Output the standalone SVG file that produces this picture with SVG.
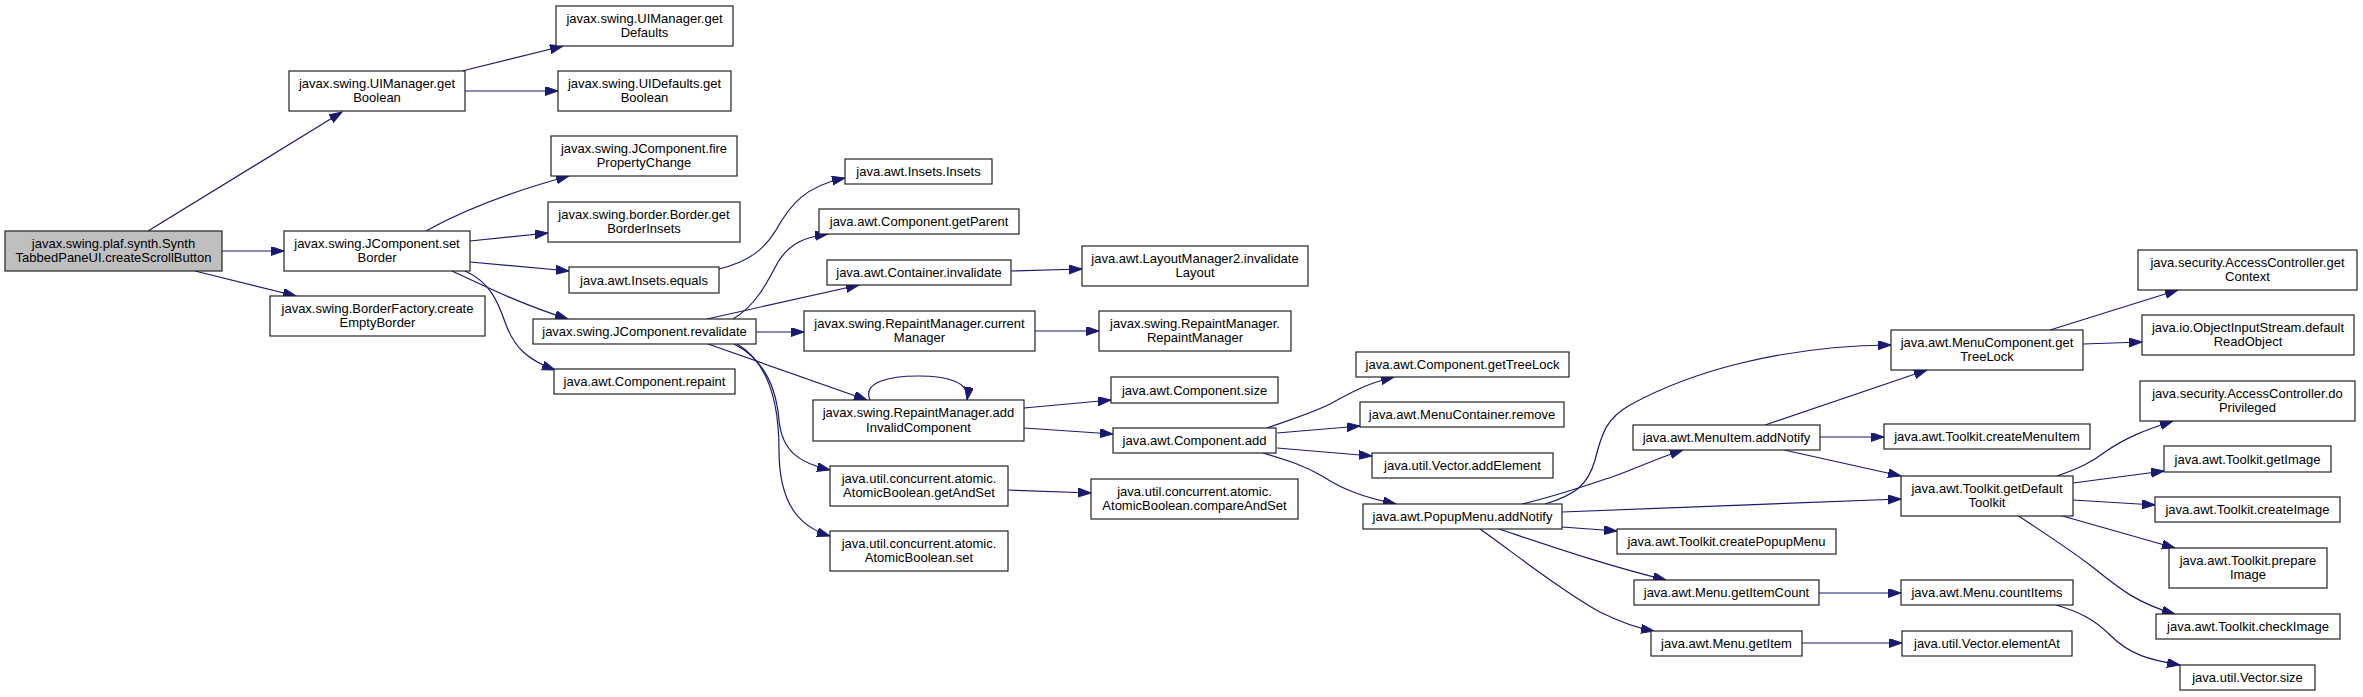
<svg xmlns="http://www.w3.org/2000/svg" width="2363" height="697" viewBox="0 0 2363 697">
<style>
.node rect{fill:#ffffff;stroke:#222222;stroke-width:1.2}
.node.root rect{fill:#bfbfbf}
.node text{font-family:"Liberation Sans",Arial,sans-serif;font-size:13px;fill:#000000;text-anchor:middle}
.edges path{fill:none;stroke:#191970;stroke-width:1.2}
</style>
<defs>
<marker id="arrow" markerUnits="userSpaceOnUse" markerWidth="14" markerHeight="10" refX="13" refY="4.5" orient="auto">
<path d="M0,0 L13,4.5 L0,9 z" fill="#191970" stroke="#191970" stroke-width="1"/>
</marker>
</defs>
<rect x="0" y="0" width="2363" height="697" fill="#ffffff"/>
<g class="edges">
<path d="M148,231 L342,112" marker-end="url(#arrow)"/>
<path d="M222,251 L284,251" marker-end="url(#arrow)"/>
<path d="M195,271 L296,296" marker-end="url(#arrow)"/>
<path d="M462,71 L563,46" marker-end="url(#arrow)"/>
<path d="M465,91 L558,91" marker-end="url(#arrow)"/>
<path d="M426,231 C460,212 510,192 569,176" marker-end="url(#arrow)"/>
<path d="M470,241 L548,233" marker-end="url(#arrow)"/>
<path d="M470,262 L569,271" marker-end="url(#arrow)"/>
<path d="M452,271 C480,284 520,304 568,319" marker-end="url(#arrow)"/>
<path d="M465,271 C490,282 498,302 505,322 C514,348 528,360 555,370" marker-end="url(#arrow)"/>
<path d="M719,269 C748,262 764,250 776,230 C790,205 805,186 845,178" marker-end="url(#arrow)"/>
<path d="M733,319 C755,306 766,285 778,262 C790,243 805,237 828,234" marker-end="url(#arrow)"/>
<path d="M707,319 L859,285" marker-end="url(#arrow)"/>
<path d="M756,332 L804,332" marker-end="url(#arrow)"/>
<path d="M708,344 L867,400" marker-end="url(#arrow)"/>
<path d="M734,344 C762,358 776,385 779,420 C782,452 800,463 830,470" marker-end="url(#arrow)"/>
<path d="M737,344 C768,362 779,400 779,450 C779,505 800,527 830,536" marker-end="url(#arrow)"/>
<path d="M1011,271 L1082,269" marker-end="url(#arrow)"/>
<path d="M1035,331 L1099,331" marker-end="url(#arrow)"/>
<path d="M870,400 C862,382 890,376 918,376 C948,376 970,382 967,400" marker-end="url(#arrow)"/>
<path d="M1024,408 L1111,400" marker-end="url(#arrow)"/>
<path d="M1024,428 L1113,434" marker-end="url(#arrow)"/>
<path d="M1008,490 L1091,493" marker-end="url(#arrow)"/>
<path d="M1267,428 C1295,418 1315,412 1332,403 C1348,394 1365,384 1394,377" marker-end="url(#arrow)"/>
<path d="M1277,433 L1360,426" marker-end="url(#arrow)"/>
<path d="M1277,448 L1372,456" marker-end="url(#arrow)"/>
<path d="M1263,453 C1290,461 1305,466 1322,476 C1342,489 1362,497 1396,504" marker-end="url(#arrow)"/>
<path d="M1545,504 C1575,495 1588,485 1595,460 C1602,432 1607,418 1630,405 C1690,372 1780,346 1891,345" marker-end="url(#arrow)"/>
<path d="M1522,504 C1560,495 1590,484 1612,477 C1635,469 1655,459 1683,450" marker-end="url(#arrow)"/>
<path d="M1562,512 L1901,499" marker-end="url(#arrow)"/>
<path d="M1562,527 L1617,531" marker-end="url(#arrow)"/>
<path d="M1499,529 C1550,546 1605,565 1666,580" marker-end="url(#arrow)"/>
<path d="M1480,529 C1510,550 1560,590 1600,612 C1620,622 1637,628 1654,631" marker-end="url(#arrow)"/>
<path d="M1765,425 L1927,370" marker-end="url(#arrow)"/>
<path d="M1820,437 L1884,437" marker-end="url(#arrow)"/>
<path d="M1784,450 L1901,476" marker-end="url(#arrow)"/>
<path d="M1819,593 L1901,593" marker-end="url(#arrow)"/>
<path d="M1802,643 L1902,643" marker-end="url(#arrow)"/>
<path d="M2050,330 L2178,290" marker-end="url(#arrow)"/>
<path d="M2083,344 L2142,342" marker-end="url(#arrow)"/>
<path d="M2057,476 C2080,468 2092,462 2105,452 C2125,438 2145,430 2173,421" marker-end="url(#arrow)"/>
<path d="M2073,483 L2164,471" marker-end="url(#arrow)"/>
<path d="M2073,500 L2155,505" marker-end="url(#arrow)"/>
<path d="M2059,515 L2175,548" marker-end="url(#arrow)"/>
<path d="M2017,515 C2040,530 2070,550 2090,565 C2115,585 2135,603 2175,614" marker-end="url(#arrow)"/>
<path d="M2056,605 C2080,612 2095,620 2110,635 C2130,655 2150,660 2180,665" marker-end="url(#arrow)"/>
</g>
<g id="n_root" class="node root"><rect x="5" y="231" width="217" height="40"/><text x="113.5" y="247.7">javax.swing.plaf.synth.Synth</text><text x="113.5" y="262.3">TabbedPaneUI.createScrollButton</text></g>
<g id="n_uim_getBoolean" class="node"><rect x="289" y="71" width="176" height="40"/><text x="377" y="87.7">javax.swing.UIManager.get</text><text x="377" y="102.3">Boolean</text></g>
<g id="n_uim_getDefaults" class="node"><rect x="556" y="6" width="177" height="40"/><text x="644.5" y="22.7">javax.swing.UIManager.get</text><text x="644.5" y="37.3">Defaults</text></g>
<g id="n_uid_getBoolean" class="node"><rect x="558" y="71" width="173" height="40"/><text x="644.5" y="87.7">javax.swing.UIDefaults.get</text><text x="644.5" y="102.3">Boolean</text></g>
<g id="n_firePropertyChange" class="node"><rect x="551" y="136" width="186" height="40"/><text x="644" y="152.7">javax.swing.JComponent.fire</text><text x="644" y="167.3">PropertyChange</text></g>
<g id="n_getBorderInsets" class="node"><rect x="548" y="202" width="192" height="40"/><text x="644" y="218.7">javax.swing.border.Border.get</text><text x="644" y="233.3">BorderInsets</text></g>
<g id="n_setBorder" class="node"><rect x="284" y="231" width="186" height="40"/><text x="377" y="247.7">javax.swing.JComponent.set</text><text x="377" y="262.3">Border</text></g>
<g id="n_insets_equals" class="node"><rect x="569" y="267" width="150" height="26"/><text x="644" y="284.5">java.awt.Insets.equals</text></g>
<g id="n_createEmptyBorder" class="node"><rect x="270" y="296" width="215" height="40"/><text x="377.5" y="312.7">javax.swing.BorderFactory.create</text><text x="377.5" y="327.3">EmptyBorder</text></g>
<g id="n_revalidate" class="node"><rect x="533" y="319" width="223" height="25"/><text x="644.5" y="336">javax.swing.JComponent.revalidate</text></g>
<g id="n_repaint" class="node"><rect x="554" y="369" width="181" height="25"/><text x="644.5" y="386">java.awt.Component.repaint</text></g>
<g id="n_insets_insets" class="node"><rect x="845" y="159" width="147" height="25"/><text x="918.5" y="176">java.awt.Insets.Insets</text></g>
<g id="n_getParent" class="node"><rect x="819" y="209" width="200" height="25"/><text x="919" y="226">java.awt.Component.getParent</text></g>
<g id="n_container_invalidate" class="node"><rect x="827" y="260" width="184" height="25"/><text x="919" y="277">java.awt.Container.invalidate</text></g>
<g id="n_invalidateLayout" class="node"><rect x="1082" y="246" width="226" height="40"/><text x="1195" y="262.7">java.awt.LayoutManager2.invalidate</text><text x="1195" y="277.3">Layout</text></g>
<g id="n_currentManager" class="node"><rect x="804" y="311" width="231" height="40"/><text x="919.5" y="327.7">javax.swing.RepaintManager.current</text><text x="919.5" y="342.3">Manager</text></g>
<g id="n_rm_ctor" class="node"><rect x="1099" y="311" width="192" height="40"/><text x="1195" y="327.7">javax.swing.RepaintManager.</text><text x="1195" y="342.3">RepaintManager</text></g>
<g id="n_addInvalidComponent" class="node"><rect x="813" y="400" width="211" height="41"/><text x="918.5" y="417.2">javax.swing.RepaintManager.add</text><text x="918.5" y="431.8">InvalidComponent</text></g>
<g id="n_component_size" class="node"><rect x="1111" y="377" width="167" height="26"/><text x="1194.5" y="394.5">java.awt.Component.size</text></g>
<g id="n_component_add" class="node"><rect x="1113" y="428" width="163" height="25"/><text x="1194.5" y="445">java.awt.Component.add</text></g>
<g id="n_getAndSet" class="node"><rect x="830" y="466" width="178" height="40"/><text x="919" y="482.7">java.util.concurrent.atomic.</text><text x="919" y="497.3">AtomicBoolean.getAndSet</text></g>
<g id="n_compareAndSet" class="node"><rect x="1091" y="479" width="207" height="40"/><text x="1194.5" y="495.7">java.util.concurrent.atomic.</text><text x="1194.5" y="510.3">AtomicBoolean.compareAndSet</text></g>
<g id="n_set" class="node"><rect x="830" y="531" width="178" height="40"/><text x="919" y="547.7">java.util.concurrent.atomic.</text><text x="919" y="562.3">AtomicBoolean.set</text></g>
<g id="n_comp_getTreeLock" class="node"><rect x="1356" y="352" width="213" height="25"/><text x="1462.5" y="369">java.awt.Component.getTreeLock</text></g>
<g id="n_menuContainer_remove" class="node"><rect x="1360" y="402" width="204" height="25"/><text x="1462" y="419">java.awt.MenuContainer.remove</text></g>
<g id="n_vector_addElement" class="node"><rect x="1372" y="453" width="181" height="25"/><text x="1462.5" y="470">java.util.Vector.addElement</text></g>
<g id="n_popup_addNotify" class="node"><rect x="1363" y="504" width="199" height="25"/><text x="1462.5" y="521">java.awt.PopupMenu.addNotify</text></g>
<g id="n_menuItem_addNotify" class="node"><rect x="1633" y="425" width="187" height="25"/><text x="1726.5" y="442">java.awt.MenuItem.addNotify</text></g>
<g id="n_createPopupMenu" class="node"><rect x="1617" y="529" width="219" height="25"/><text x="1726.5" y="546">java.awt.Toolkit.createPopupMenu</text></g>
<g id="n_getItemCount" class="node"><rect x="1634" y="580" width="185" height="25"/><text x="1726.5" y="597">java.awt.Menu.getItemCount</text></g>
<g id="n_getItem" class="node"><rect x="1651" y="631" width="151" height="25"/><text x="1726.5" y="648">java.awt.Menu.getItem</text></g>
<g id="n_mc_getTreeLock" class="node"><rect x="1891" y="330" width="192" height="40"/><text x="1987" y="346.7">java.awt.MenuComponent.get</text><text x="1987" y="361.3">TreeLock</text></g>
<g id="n_createMenuItem" class="node"><rect x="1884" y="424" width="206" height="25"/><text x="1987" y="441">java.awt.Toolkit.createMenuItem</text></g>
<g id="n_getDefaultToolkit" class="node"><rect x="1901" y="476" width="172" height="40"/><text x="1987" y="492.7">java.awt.Toolkit.getDefault</text><text x="1987" y="507.3">Toolkit</text></g>
<g id="n_countItems" class="node"><rect x="1901" y="580" width="172" height="25"/><text x="1987" y="597">java.awt.Menu.countItems</text></g>
<g id="n_elementAt" class="node"><rect x="1902" y="631" width="170" height="25"/><text x="1987" y="648">java.util.Vector.elementAt</text></g>
<g id="n_getContext" class="node"><rect x="2138" y="250" width="219" height="40"/><text x="2247.5" y="266.7">java.security.AccessController.get</text><text x="2247.5" y="281.3">Context</text></g>
<g id="n_defaultReadObject" class="node"><rect x="2142" y="315" width="212" height="40"/><text x="2248" y="331.7">java.io.ObjectInputStream.default</text><text x="2248" y="346.3">ReadObject</text></g>
<g id="n_doPrivileged" class="node"><rect x="2140" y="381" width="215" height="40"/><text x="2247.5" y="397.7">java.security.AccessController.do</text><text x="2247.5" y="412.3">Privileged</text></g>
<g id="n_getImage" class="node"><rect x="2164" y="446" width="167" height="26"/><text x="2247.5" y="463.5">java.awt.Toolkit.getImage</text></g>
<g id="n_createImage" class="node"><rect x="2155" y="497" width="185" height="25"/><text x="2247.5" y="514">java.awt.Toolkit.createImage</text></g>
<g id="n_prepareImage" class="node"><rect x="2169" y="548" width="158" height="40"/><text x="2248" y="564.7">java.awt.Toolkit.prepare</text><text x="2248" y="579.3">Image</text></g>
<g id="n_checkImage" class="node"><rect x="2156" y="614" width="184" height="25"/><text x="2248" y="631">java.awt.Toolkit.checkImage</text></g>
<g id="n_vector_size" class="node"><rect x="2180" y="665" width="135" height="25"/><text x="2247.5" y="682">java.util.Vector.size</text></g>
</svg>
